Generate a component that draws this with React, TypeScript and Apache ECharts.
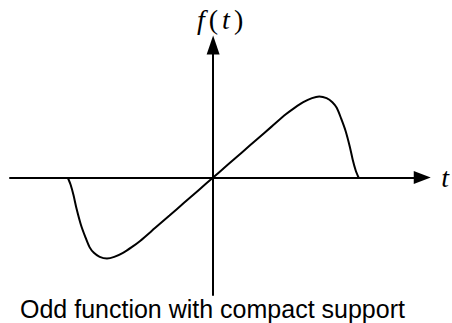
import React, { useEffect, useRef } from 'react';
import * as echarts from 'echarts';

const tValues = [
  -1.0, -0.98, -0.96, -0.94, -0.91, -0.88, -0.85, -0.82, -0.78, -0.73, -0.68, -0.62, -0.56, -0.5, -0.4, -0.3, -0.2, -0.1,
  0,
  0.1, 0.2, 0.3, 0.4, 0.5, 0.56, 0.62, 0.68, 0.73, 0.78, 0.82, 0.85, 0.88, 0.91, 0.94, 0.96, 0.98, 1.0,
];
const fValues = [
  0, -0.09, -0.22, -0.38, -0.58, -0.73, -0.86, -0.93, -0.98, -1.0, -0.98, -0.93, -0.86, -0.78, -0.625, -0.47, -0.313, -0.157,
  0,
  0.157, 0.313, 0.47, 0.625, 0.78, 0.86, 0.93, 0.98, 1.0, 0.98, 0.93, 0.86, 0.73, 0.58, 0.38, 0.22, 0.09, 0,
];
const xAxisName = 't';
const yAxisName = '{f|f}{p|(}{t|t}{p|)}';
const caption = 'Odd function with compact support';

export default function App() {
  const ref = useRef<HTMLDivElement>(null);
  useEffect(() => {
    const chart = echarts.init(ref.current!, null, { renderer: 'svg' });
    const data = tValues.map((t, i) => [t, fValues[i]]);
    chart.setOption({
      animation: false,
      backgroundColor: '#fff',
      title: {
        text: caption,
        left: 20,
        top: 296,
        padding: 0,
        textStyle: {
          fontFamily: 'Liberation Sans',
          fontSize: 25,
          fontWeight: 'normal',
          color: '#000',
        },
      },
      grid: { left: 10, right: 28, top: 45, bottom: 28 },
      xAxis: {
        type: 'value',
        min: -1.397,
        max: 1.438,
        name: xAxisName,
        nameLocation: 'end',
        nameGap: 19,
        nameTextStyle: {
          fontFamily: 'Liberation Serif',
          fontStyle: 'italic',
          fontSize: 28,
          color: '#000',
        },
        axisLine: {
          show: true,
          onZero: true,
          symbol: ['none', 'triangle'],
          symbolSize: [13, 17],
          lineStyle: { color: '#000', width: 2 },
        },
        axisTick: { show: false },
        axisLabel: { show: false },
        splitLine: { show: false },
      },
      yAxis: {
        type: 'value',
        min: -1.451,
        max: 1.636,
        name: yAxisName,
        nameLocation: 'end',
        nameGap: 12,
        nameTextStyle: {
          padding: [0, 0, 0, 14],
          rich: {
            f: { fontFamily: 'Liberation Serif', fontStyle: 'italic', fontSize: 28, color: '#000', padding: [0, 4, 0, 0] },
            t: { fontFamily: 'Liberation Serif', fontStyle: 'italic', fontSize: 28, color: '#000', padding: [0, 4, 0, 4] },
            p: { fontFamily: 'Liberation Serif', fontSize: 28, color: '#000' },
          },
        },
        axisLine: {
          show: true,
          onZero: true,
          symbol: ['none', 'triangle'],
          symbolSize: [13, 19],
          lineStyle: { color: '#000', width: 2 },
        },
        axisTick: { show: false },
        axisLabel: { show: false },
        splitLine: { show: false },
      },
      series: [
        {
          type: 'line',
          data,
          symbol: 'none',
          smooth: 0.25,
          lineStyle: { color: '#000', width: 2 },
        },
      ],
    });
    return () => chart.dispose();
  }, []);
  return (
    <div
      ref={ref}
      style={{ position: 'fixed', left: 0, top: 0, width: 452, height: 323, background: '#fff' }}
    />
  );
}
